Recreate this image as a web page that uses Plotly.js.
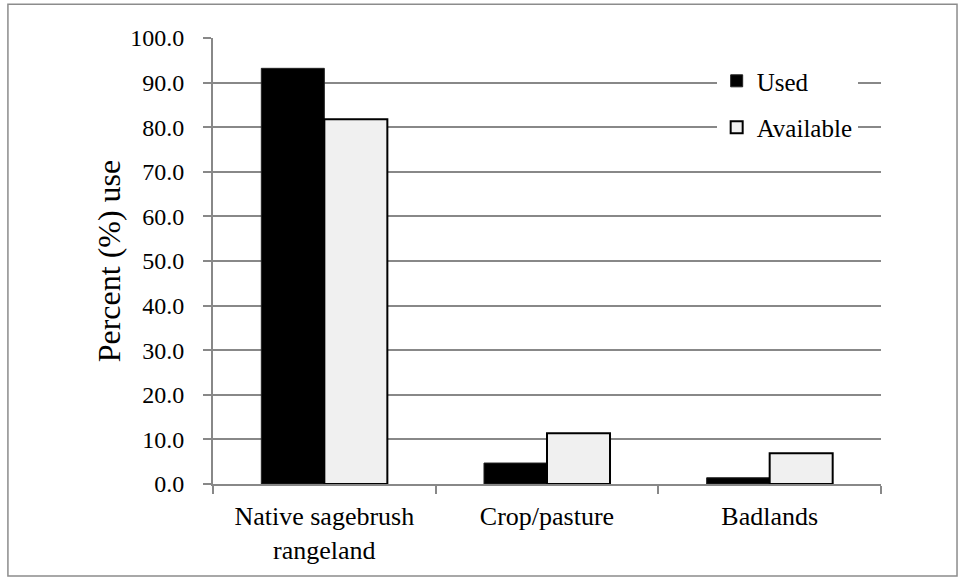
<!DOCTYPE html>
<html>
<head>
<meta charset="utf-8">
<script src="https://cdn.plot.ly/plotly-3.0.1.min.js"></script>
<style>html,body{margin:0;padding:0;background:#fff;}#chart{width:960px;height:579px;}</style>
</head>
<body>
<div id="chart"></div>
<script>
const categories = ["Native sagebrush<br>rangeland", "Crop/pasture", "Badlands"];
const usedValues = [93.2, 4.7, 1.4];
const availableValues = [81.8, 11.4, 6.9];
const seriesNames = ["Used", "Available"];
const yTicks = [0, 10, 20, 30, 40, 50, 60, 70, 80, 90, 100];

const FONT = 'Liberation Serif';

const traces = [
  {
    type: 'bar', name: seriesNames[0], x: categories, y: usedValues,
    marker: {color: '#000000', line: {color: '#222222', width: 1}},
    legendgroup: 'a', hoverinfo: 'skip'
  },
  {
    type: 'bar', name: seriesNames[1], x: categories, y: availableValues,
    marker: {color: '#f0f0f0', line: {color: '#000000', width: 2}},
    legendgroup: 'b', hoverinfo: 'skip'
  }
];

const layout = {
  width: 960, height: 579,
  margin: {l: 213, r: 79, t: 38, b: 95, pad: 0},
  paper_bgcolor: '#ffffff', plot_bgcolor: '#ffffff',
  font: {family: FONT, color: '#000000', size: 24},
  barmode: 'group', bargap: 0.434, bargroupgap: 0,
  showlegend: true,
  legend: {
    x: 0.754, xanchor: 'left', y: 0.955, yanchor: 'top',
    bgcolor: '#ffffff', borderwidth: 0,
    font: {family: FONT, size: 25, color: '#000'},
    traceorder: 'grouped', tracegroupgap: 11
  },
  xaxis: {
    type: 'category', tickson: 'boundaries',
    ticks: 'outside', ticklen: 8, tickwidth: 2, tickcolor: '#888888',
    showline: true, linecolor: '#888888', linewidth: 2,
    showgrid: false, zeroline: false,
    tickfont: {family: FONT, size: 26, color: '#000'},
    ticklabelstandoff: 8, fixedrange: true
  },
  yaxis: {
    range: [0, 100], tickvals: yTicks, tickformat: '.1f',
    ticks: 'outside', ticklen: 8, tickwidth: 2, tickcolor: '#888888',
    showline: true, linecolor: '#888888', linewidth: 2,
    showgrid: true, gridcolor: '#888888', gridwidth: 2,
    zeroline: false,
    tickfont: {family: FONT, size: 24, color: '#000'},
    ticklabelstandoff: 14,
    title: {text: 'Percent (%) use', font: {family: FONT, size: 32, color: '#000'}, standoff: 0},
    fixedrange: true
  },
  shapes: [{
    type: 'rect', xref: 'paper', yref: 'paper', layer: 'below',
    x0: -0.307, x1: 1.1138, y0: -0.206, y1: 1.0755,
    line: {color: '#8c8c8c', width: 1.5}, fillcolor: 'rgba(0,0,0,0)'
  }]
};

Plotly.newPlot('chart', traces, layout, {displayModeBar: false, staticPlot: true});
</script>
</body>
</html>
